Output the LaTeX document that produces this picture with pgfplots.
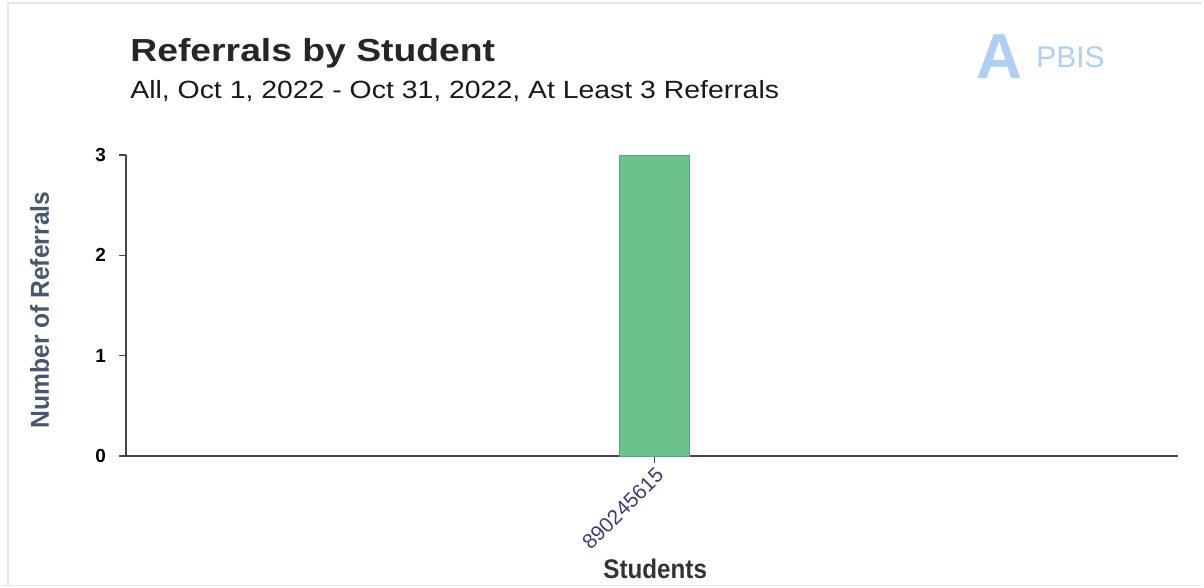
\documentclass[border=0pt]{standalone}
\usepackage{pgfplots}
\pgfplotsset{compat=1.18}
\usepackage{fontspec}
\setmainfont{Liberation Sans}
\definecolor{barg}{RGB}{108,194,140}
\definecolor{ylab}{RGB}{72,88,108}
\definecolor{xtl}{RGB}{62,62,112}
\definecolor{axc}{RGB}{70,70,70}
\definecolor{logo}{RGB}{175,208,240}
\begin{document}
\begin{tikzpicture}[x=1bp,y=1bp]
\path[draw=black!10, line width=1bp] (4,0.5) -- (4,292) -- (601,292);
\path[draw=black!8, line width=0.8bp] (0.5,0.7) -- (601,0.7);
\path (0,0) rectangle (602,293.5);
\node[anchor=base west, inner sep=0pt, text=black!85] at (65,263) {\scalebox{1.17}[1]{\fontsize{16}{19}\selectfont\bfseries Referrals by Student}};
\node[anchor=base west, inner sep=0pt, text=black!90] at (65,244.5) {\scalebox{1.14}[1]{\fontsize{12.5}{15}\selectfont All, Oct 1, 2022 - Oct 31, 2022, At Least 3 Referrals}};
\node[anchor=center, inner sep=0pt, text=logo] at (500,265) {\fontsize{32}{34}\selectfont\bfseries A};
\node[anchor=base west, inner sep=0pt, text=logo] at (518,260) {\fontsize{15}{17}\selectfont PBIS};
\begin{axis}[
  at={(63bp,65.5bp)}, anchor=south west,
  scale only axis, width=526bp, height=150.5bp,
  xmin=-1, xmax=0.99, ymin=0, ymax=3,
  axis x line=bottom, axis y line=left,
  axis line style={-, draw=axc, line width=0.8bp},
  xtick={0}, xticklabels={890245615},
  ytick={0,1,2,3},
  tick align=outside, major tick length=3.5bp,
  tick style={draw=axc, line width=0.6bp},
  yticklabel style={font=\fontsize{9.5}{11}\selectfont\bfseries, text=black, xshift=-3bp},
  /pgf/number format/assume math mode=true,
  xticklabel style={rotate=45, anchor=north east, font=\fontsize{10.5}{12}\selectfont, text=xtl, inner sep=1bp},
  ylabel={\scalebox{0.95}[1]{\fontsize{13}{15}\selectfont\bfseries Number of Referrals}},
  ylabel style={text=ylab, at={(axis description cs:-0.082,0.485)}, anchor=center},
  xlabel={\scalebox{0.9}[1]{\fontsize{13.5}{15}\selectfont\bfseries Students}},
  xlabel style={text=black!80, at={(axis description cs:0.503,0)}, anchor=base, yshift=-61bp},
  ybar, bar width=35bp,
]
\addplot[fill=barg, draw=barg!85!black, line width=0.3bp] coordinates {(0,3)};
\end{axis}
\end{tikzpicture}
\end{document}
